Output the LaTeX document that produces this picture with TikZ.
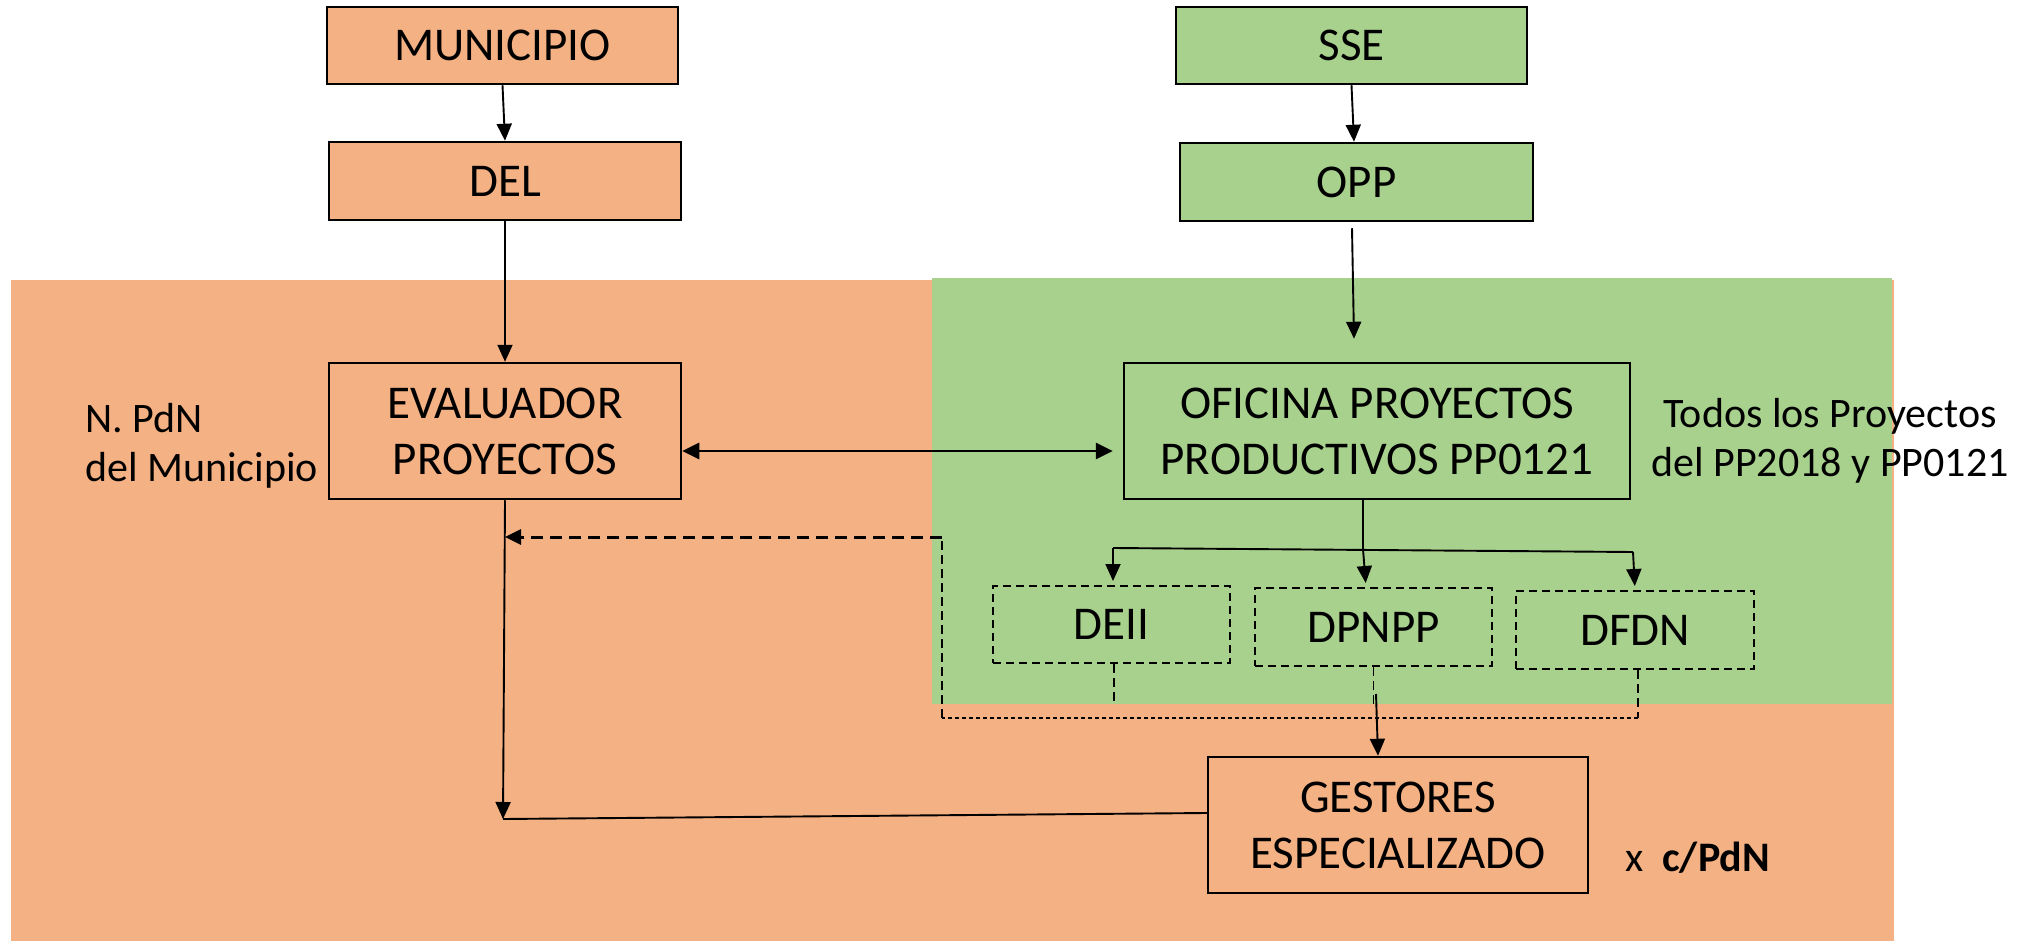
\documentclass[tikz,border=0pt]{standalone}
\usepackage{fontspec}
\setmainfont{Carlito}
\usetikzlibrary{arrows.meta}
\definecolor{orbg}{HTML}{F4B183}
\definecolor{grbg}{HTML}{A9D18E}
\begin{document}
\begin{tikzpicture}[x=1pt,y=-1pt,
  box/.style={draw=black, line width=2.5pt, inner sep=0pt, align=center,
    font=\fontsize{47}{56}\selectfont},
  obox/.style={box, fill=orbg},
  gbox/.style={box, fill=grbg},
  dbox/.style={draw=black, line width=2pt, dash pattern=on 8pt off 5pt, inner sep=0pt,
    align=center, font=\fontsize{47}{56}\selectfont},
  note/.style={inner sep=0pt, font=\fontsize{42}{49}\selectfont},
  arr/.style={-{Triangle[length=17pt,width=15pt]}, line width=1.9pt},
  biarr/.style={{Triangle[length=17pt,width=16pt]}-{Triangle[length=17pt,width=16pt]}, line width=2.8pt},
  thindash/.style={line width=1.4pt, dash pattern=on 9pt off 5pt},
  dotline/.style={line width=1.6pt, dash pattern=on 4pt off 3pt},
  thickdasharr/.style={-{Triangle[length=16pt,width=15pt]}, line width=3pt, dash pattern=on 12pt off 7pt},
  thinline/.style={line width=1.9pt}
]
\useasboundingbox (0,0) rectangle (2034,941);
\fill[white] (0,0) rectangle (2034,941);
% background regions
\fill[orbg] (11,280) rectangle (1894,941);
\fill[grbg] (932,278) rectangle (1892,704);

% boxes
\node[obox, minimum width=351pt, minimum height=77pt] (MUN) at (502.5,45.5) {MUNICIPIO};
\node[obox, minimum width=352pt, minimum height=78pt] (DEL) at (505,181) {DEL};
\node[obox, minimum width=352pt, minimum height=136pt] (EVAL) at (505,431) {EVALUADOR\\PROYECTOS};
\node[gbox, minimum width=351pt, minimum height=77pt] (SSE) at (1351.5,45.5) {SSE};
\node[gbox, minimum width=353pt, minimum height=78pt] (OPP) at (1356.5,182) {OPP};
\node[gbox, minimum width=506pt, minimum height=136pt] (OFI) at (1377,431) {OFICINA PROYECTOS\\PRODUCTIVOS PP0121};
\node[obox, minimum width=380pt, minimum height=136pt] (GEST) at (1398,825) {GESTORES\\ESPECIALIZADO};
\node[dbox, minimum width=237pt, minimum height=77pt] (DEII) at (1111.5,624.5) {DEII};
\node[dbox, minimum width=237pt, minimum height=78pt] (DPNPP) at (1373.5,627) {DPNPP};
\node[dbox, minimum width=238pt, minimum height=78pt] (DFDN) at (1635,630) {DFDN};

% notes
\node[note, anchor=west, align=left] (npdn) at (85,446) {N. PdN\\del Municipio};
\node[note, align=center] (todos) at (1830,441) {Todos los Proyectos\\del PP2018 y PP0121};
\node[note, anchor=west] (xpdn) at (1625,858) {x\ \ \textbf{c/PdN}};

% connectors top
\draw[arr] (MUN.south) -- (DEL.north);
\draw[arr] (DEL.south) -- (EVAL.north);
\draw[arr] (SSE.south) -- ([xshift=-2.5pt]OPP.north);
\draw[arr] ([xshift=-4.5pt,yshift=-6pt]OPP.south) -- ([xshift=-23pt,yshift=23pt]OFI.north);
\draw[biarr] ([yshift=-20pt]EVAL.east) -- ([xshift=-10pt,yshift=-20pt]OFI.west);

% tree below OFICINA
\coordinate (brM) at (1363,549);
\coordinate (brL) at (1113,548);
\coordinate (brR) at (1633,552);
\draw[thinline] (OFI.south -| brM) -- (brM);
\draw[thinline] (brL) -- (brR);
\draw[arr, shorten >=4pt] (brL) -- ([xshift=1.5pt]DEII.north);
\draw[arr, shorten >=4pt] (brM) -- ([xshift=-7.5pt]DPNPP.north);
\draw[arr, shorten >=4pt] (brR) -- (DFDN.north);

% dashed links from the three offices
\coordinate (dR) at (1638,718);
\coordinate (dL) at (942,718);
\coordinate (dT) at (942,537);
\coordinate (dM) at (1376,694);
\draw[thindash] ([xshift=2.5pt]DEII.south) -- ++(0,40);
\draw[thindash] (DPNPP.south) -- ++(0,38);
\draw[arr] (dM) -- ([xshift=-20pt]GEST.north);
\draw[thindash] (DFDN.south -| dR) -- (dR);
\draw[dotline] (dR) -- (dL);
\draw[thindash] (dL) -- (dT);
\draw[thickdasharr] (dT) -- (EVAL.south |- dT);

% main return path
\coordinate (evbot) at (503,819);
\draw[arr] (EVAL.south) -- (evbot);
\draw[thinline] (evbot) -- ([yshift=12pt]GEST.west);
\end{tikzpicture}
\end{document}
